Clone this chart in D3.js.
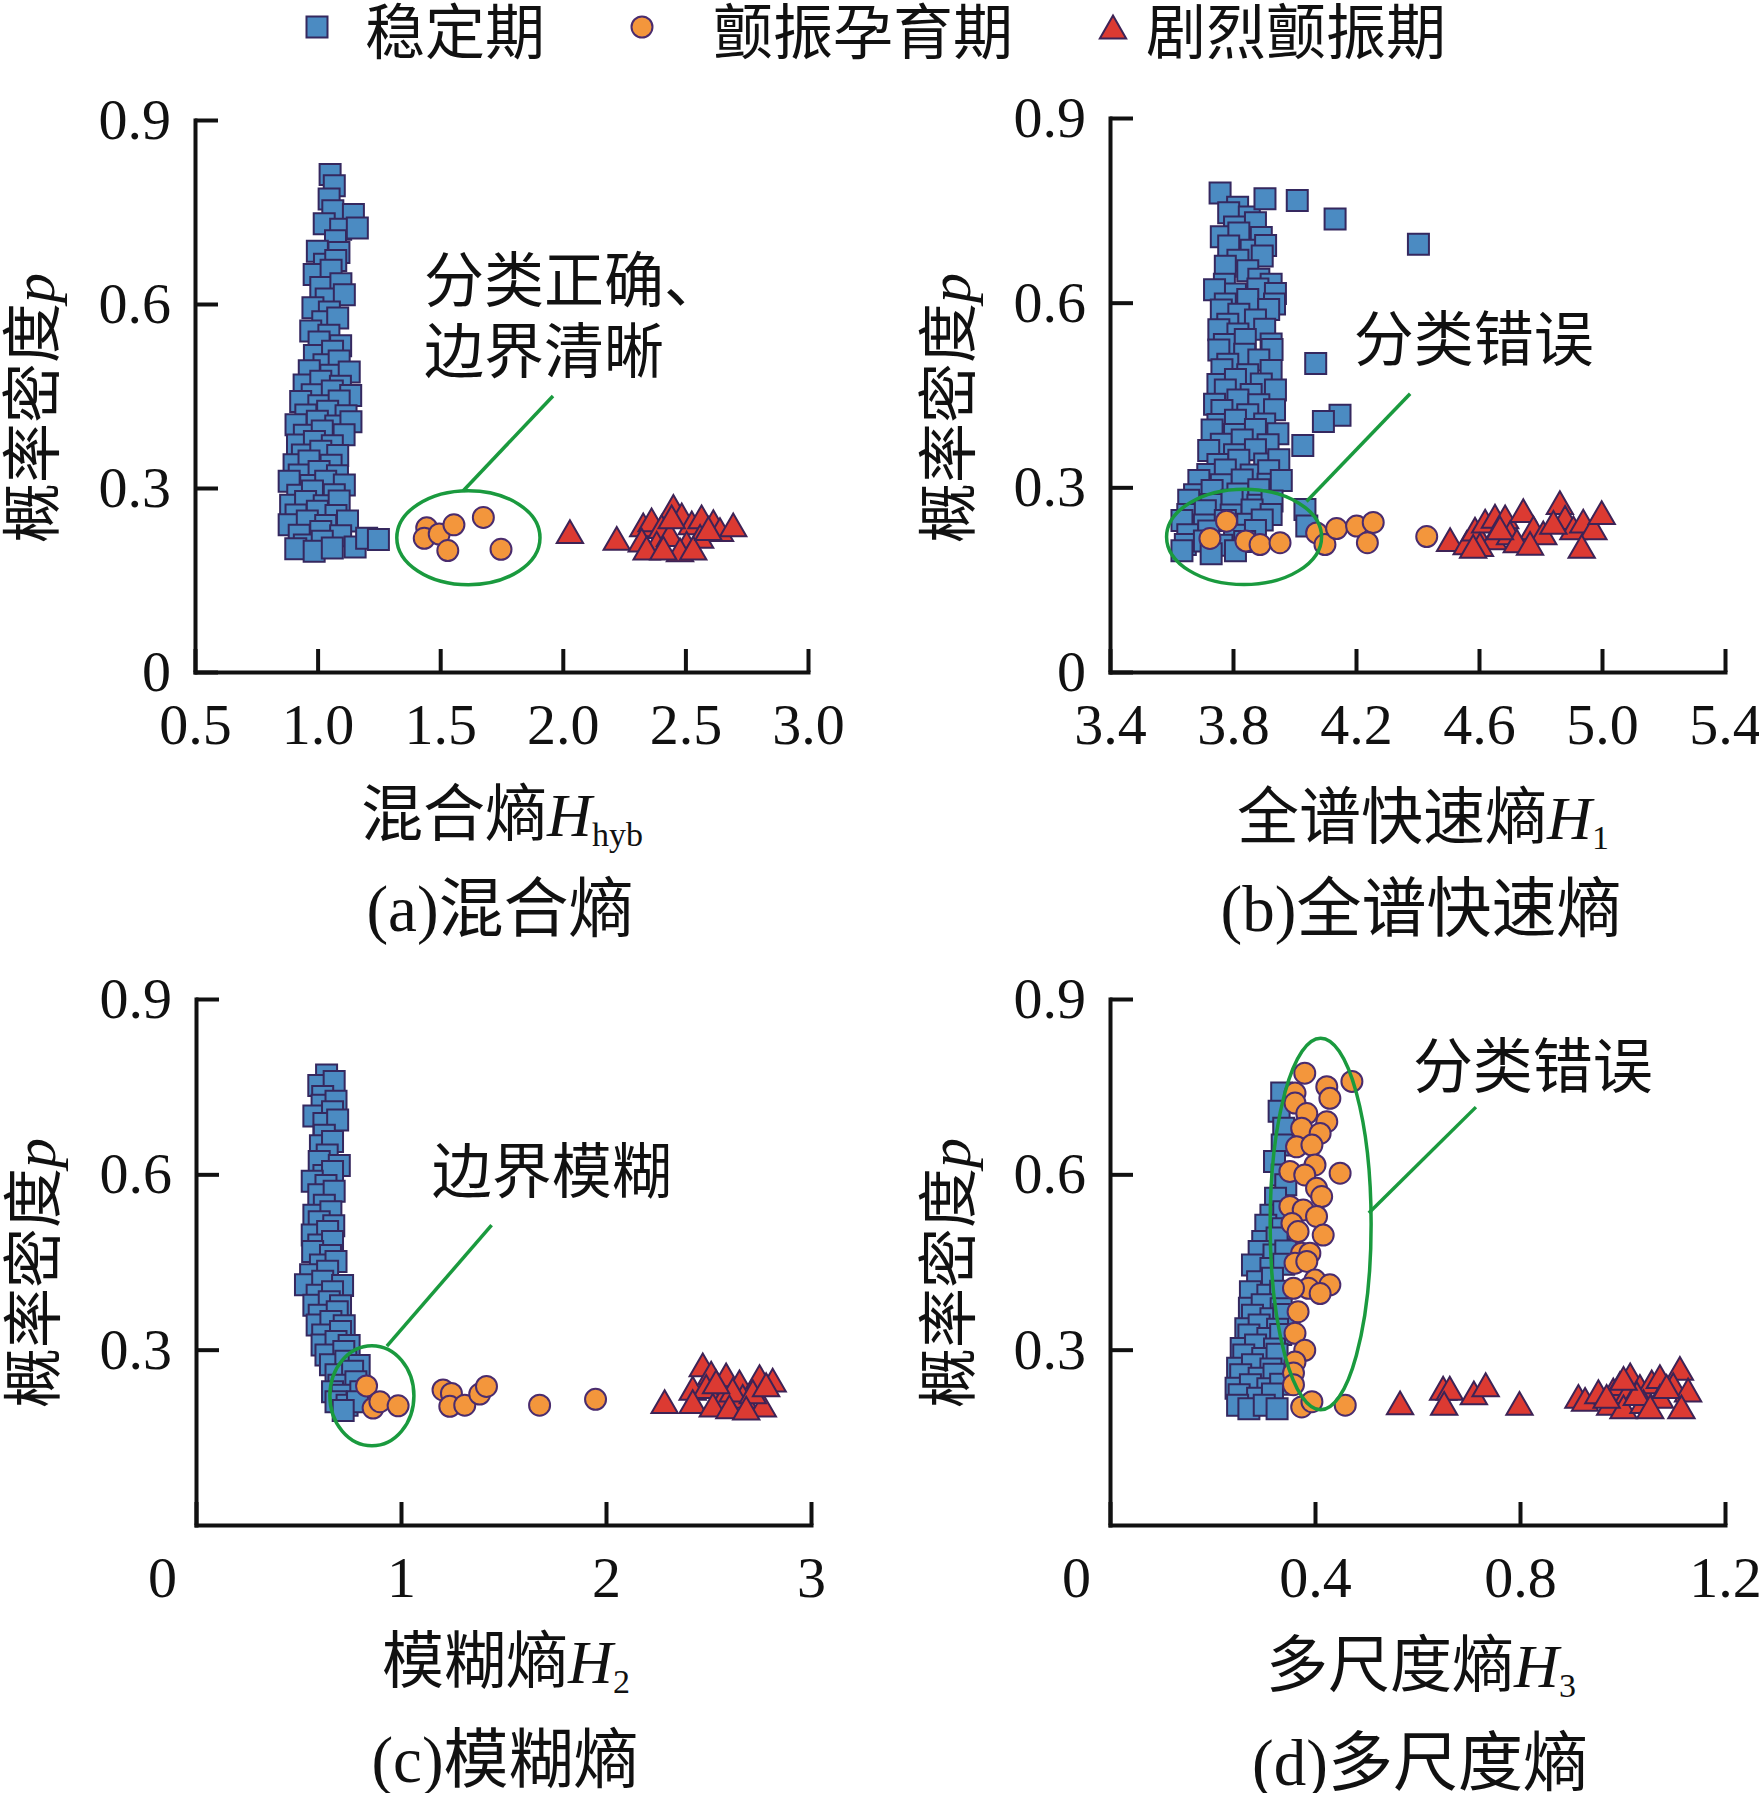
<!DOCTYPE html>
<html>
<head>
<meta charset="utf-8">
<script src="https://cdn.jsdelivr.net/npm/d3@7"></script>
<style>
  body { margin: 0; background: #fff; }
</style>
</head>
<body>
<div id="chart"></div>
<script>
// ---- data ----
const CATEGORIES = ['稳定期', '颤振孕育期', '剧烈颤振期'];

const A_XTICKS = [0.5, 1.0, 1.5, 2.0, 2.5, 3.0];
const B_XTICKS = [3.4, 3.8, 4.2, 4.6, 5.0, 5.4];
const C_XTICKS = [0, 1, 2, 3];
const D_XTICKS = [0, 0.4, 0.8, 1.2];
const AB_YTICKS = [0, 0.3, 0.6, 0.9];
const CD_YTICKS = [0.3, 0.6, 0.9];

// (a) hybrid entropy
const aStable = [
  [1.051,0.811],[1.068,0.793],[1.047,0.771],[1.062,0.752],[1.146,0.746],
  [1.027,0.731],[1.094,0.722],[1.162,0.724],[1.073,0.703],[0.999,0.686],[1.087,0.684],
  [1.028,0.665],[1.074,0.671],[0.986,0.648],[1.055,0.655],[1.013,0.627],[1.095,0.633],
  [1.035,0.608],[1.109,0.615],[0.981,0.594],[1.048,0.587],[1.021,0.571],[1.082,0.577],
  [0.972,0.556],[1.046,0.549],[1.006,0.538],[1.094,0.532],[0.987,0.516],[1.061,0.523],
  [1.026,0.501],[1.088,0.507],[0.966,0.491],[1.054,0.484],[1.129,0.489],
  [0.945,0.468],[1.013,0.474],[1.093,0.466],[0.978,0.452],[1.060,0.458],[1.135,0.451],
  [0.931,0.441],[1.005,0.434],[1.088,0.442],[0.952,0.419],[1.041,0.425],[1.116,0.418],
  [0.912,0.403],[0.999,0.409],[1.074,0.401],[1.136,0.408],[0.946,0.386],[1.019,0.393],[1.108,0.387],
  [0.918,0.370],[0.987,0.376],[1.060,0.369],[0.938,0.354],[1.013,0.360],[1.082,0.353],
  [0.904,0.338],[0.965,0.344],[1.055,0.337],[0.925,0.321],[1.006,0.327],[1.081,0.320],
  [0.884,0.311],[0.972,0.304],[1.033,0.311],[1.109,0.305],[0.919,0.288],[0.979,0.295],[1.068,0.289],
  [0.890,0.272],[0.951,0.278],[1.027,0.271],[1.088,0.279],[0.912,0.256],[0.999,0.262],[1.075,0.255],
  [0.884,0.240],[0.958,0.246],[1.033,0.239],[1.122,0.246],[0.925,0.223],[1.013,0.229],[1.094,0.222],
  [0.946,0.207],[1.019,0.213],[1.153,0.204],[0.911,0.201],[0.986,0.197],[1.060,0.202],
  [1.200,0.218],[1.248,0.216]
];
const aPre = [
  [1.445,0.235],[1.435,0.218],[1.496,0.225],[1.556,0.240],[1.531,0.198],[1.676,0.252],[1.748,0.200]
];
const aViolent = [
  [2.029,0.229],[2.220,0.218],[2.328,0.240],[2.362,0.248],[2.451,0.270],[2.403,0.237],
  [2.485,0.256],[2.526,0.243],[2.566,0.253],[2.614,0.245],[2.641,0.232],[2.695,0.240],
  [2.322,0.215],[2.383,0.210],[2.505,0.210],[2.560,0.221],[2.437,0.224],[2.342,0.202],
  [2.478,0.199],[2.532,0.202],[2.410,0.202],[2.444,0.253],[2.594,0.234]
];

// (b) full-spectrum fast entropy
const bStable = [
  [3.758,0.778],[3.815,0.755],[3.786,0.746],[3.853,0.739],[3.805,0.723],[3.873,0.730],
  [3.762,0.707],[3.819,0.713],[3.892,0.706],[3.786,0.692],[3.859,0.685],[3.906,0.693],
  [3.816,0.669],[3.895,0.676],[3.775,0.659],[3.848,0.652],[3.772,0.630],[3.884,0.638],[3.924,0.630],
  [3.740,0.621],[3.808,0.614],[3.881,0.622],[3.938,0.615],[3.775,0.598],[3.848,0.605],[3.935,0.598],
  [3.762,0.588],[3.819,0.581],[3.916,0.589],[3.783,0.565],[3.873,0.572],
  [3.754,0.556],[3.816,0.549],[3.903,0.557],[3.772,0.532],[3.840,0.540],[3.924,0.533],
  [3.754,0.523],[3.838,0.516],[3.927,0.524],[3.783,0.500],[3.884,0.507],
  [3.764,0.491],[3.848,0.483],[3.924,0.490],[3.751,0.467],[3.808,0.475],[3.892,0.468],
  [3.775,0.458],[3.859,0.451],[3.938,0.458],[3.740,0.435],[3.816,0.442],[3.884,0.434],
  [3.764,0.425],[3.848,0.418],[3.935,0.426],[3.751,0.402],[3.808,0.409],[3.903,0.403],
  [3.732,0.393],[3.805,0.386],[3.873,0.394],[3.946,0.387],[3.762,0.370],[3.830,0.377],[3.914,0.369],
  [3.721,0.360],[3.805,0.353],[3.873,0.361],[3.751,0.337],[3.819,0.344],[3.903,0.338],[3.949,0.345],
  [3.718,0.321],[3.775,0.328],[3.859,0.320],[3.916,0.327],
  [3.689,0.311],[3.762,0.304],[3.830,0.312],[3.914,0.305],[3.957,0.311],
  [3.675,0.288],[3.732,0.295],[3.816,0.289],[3.884,0.296],
  [3.656,0.279],[3.729,0.272],[3.797,0.279],[3.881,0.271],[3.927,0.278],
  [3.653,0.256],[3.710,0.262],[3.794,0.255],[3.862,0.263],[3.924,0.256],
  [3.634,0.246],[3.707,0.239],[3.775,0.246],[3.848,0.240],[3.895,0.247],
  [3.653,0.223],[3.721,0.229],[3.805,0.222],[3.873,0.230],
  [3.645,0.207],[3.707,0.213],[3.764,0.206],[3.838,0.212],[3.634,0.197],[3.729,0.192],[3.808,0.197],
  [3.904,0.769],[4.009,0.766],[4.132,0.736],[4.403,0.695],[4.069,0.501],[4.148,0.417],
  [4.094,0.407],[4.027,0.368],[4.034,0.264],[4.040,0.237]
];
const bPre = [
  [3.725,0.217],[3.779,0.245],[3.842,0.213],[3.888,0.207],[3.953,0.210],[4.072,0.226],
  [4.099,0.207],[4.137,0.233],[4.202,0.237],[4.256,0.243],[4.237,0.210],[4.430,0.220]
];
const bViolent = [
  [4.506,0.215],[4.560,0.210],[4.587,0.232],[4.620,0.245],[4.652,0.253],[4.685,0.252],
  [4.647,0.218],[4.701,0.226],[4.744,0.262],[4.777,0.234],[4.723,0.213],[4.809,0.226],
  [4.863,0.275],[4.880,0.251],[4.907,0.234],[4.939,0.245],[4.972,0.234],[4.999,0.259],
  [4.934,0.204],[4.603,0.207],[4.766,0.209],[4.842,0.243],[4.668,0.234],[4.581,0.204]
];

// (c) fuzzy entropy
const cStable = [
  [0.637,0.770],[0.599,0.752],[0.674,0.759],[0.618,0.733],[0.615,0.718],[0.683,0.725],
  [0.575,0.700],[0.666,0.707],[0.624,0.687],[0.691,0.693],[0.626,0.667],[0.607,0.649],[0.666,0.656],
  [0.640,0.633],[0.601,0.622],[0.699,0.615],[0.624,0.598],[0.666,0.605],[0.567,0.588],[0.634,0.581],
  [0.599,0.565],[0.674,0.571],[0.626,0.547],[0.575,0.530],[0.658,0.536],[0.601,0.519],[0.672,0.512],
  [0.567,0.496],[0.642,0.502],[0.599,0.479],[0.666,0.485],[0.569,0.468],[0.656,0.461],
  [0.607,0.445],[0.683,0.451],[0.559,0.428],[0.642,0.434],[0.534,0.411],[0.618,0.417],[0.715,0.410],
  [0.591,0.393],[0.666,0.399],[0.575,0.376],[0.650,0.382],[0.705,0.375],[0.601,0.359],[0.689,0.365],
  [0.591,0.342],[0.658,0.348],[0.723,0.341],[0.618,0.325],[0.705,0.331],
  [0.615,0.308],[0.683,0.314],[0.747,0.307],[0.634,0.291],[0.721,0.297],
  [0.656,0.274],[0.731,0.280],[0.796,0.273],[0.683,0.257],[0.764,0.263],
  [0.697,0.239],[0.780,0.245],[0.666,0.228],[0.713,0.222],[0.804,0.228],
  [0.683,0.211],[0.737,0.205],[0.788,0.211],[0.718,0.196]
];
const cPre = [
  [0.832,0.238],[0.864,0.200],[0.897,0.211],[0.986,0.204],[1.205,0.231],[1.246,0.225],
  [1.238,0.203],[1.311,0.205],[1.384,0.224],[1.417,0.237],[1.676,0.205],[1.949,0.215]
];
const cViolent = [
  [2.286,0.211],[2.423,0.234],[2.472,0.274],[2.513,0.260],[2.586,0.257],[2.651,0.245],
  [2.749,0.254],[2.813,0.248],[2.489,0.237],[2.570,0.217],[2.667,0.220],[2.765,0.205],
  [2.423,0.211],[2.521,0.205],[2.618,0.231],[2.716,0.228],[2.537,0.245],[2.781,0.240],
  [2.602,0.202],[2.684,0.200]
];

// (d) multiscale entropy
const dStable = [
  [0.335,0.739],[0.330,0.708],[0.339,0.679],[0.336,0.650],[0.321,0.622],[0.336,0.599],[0.343,0.582],
  [0.323,0.559],[0.314,0.530],[0.339,0.536],[0.304,0.513],[0.337,0.507],[0.298,0.485],[0.326,0.491],
  [0.291,0.468],[0.320,0.462],[0.343,0.469],[0.278,0.445],[0.314,0.439],[0.339,0.446],
  [0.288,0.416],[0.317,0.422],[0.274,0.399],[0.308,0.393],[0.333,0.400],
  [0.272,0.371],[0.297,0.377],[0.334,0.370],[0.278,0.359],[0.314,0.353],[0.339,0.360],
  [0.265,0.336],[0.291,0.342],[0.327,0.335],[0.271,0.325],[0.308,0.319],[0.333,0.326],
  [0.256,0.302],[0.284,0.308],[0.321,0.301],[0.261,0.291],[0.298,0.285],[0.326,0.292],
  [0.249,0.268],[0.278,0.274],[0.314,0.267],[0.255,0.257],[0.291,0.251],[0.320,0.258],
  [0.246,0.234],[0.274,0.240],[0.308,0.233],[0.333,0.241],[0.252,0.223],[0.288,0.217],[0.317,0.224],
  [0.249,0.205],[0.271,0.199],[0.301,0.205],[0.326,0.199]
];
const dPre = [
  [0.380,0.773],[0.361,0.739],[0.423,0.750],[0.429,0.730],[0.472,0.759],[0.361,0.722],
  [0.384,0.704],[0.423,0.690],[0.374,0.679],[0.410,0.670],[0.364,0.647],[0.394,0.650],
  [0.400,0.616],[0.351,0.605],[0.380,0.599],[0.449,0.602],[0.403,0.576],[0.413,0.562],
  [0.351,0.545],[0.377,0.539],[0.403,0.528],[0.355,0.516],[0.367,0.502],[0.416,0.496],
  [0.374,0.465],[0.390,0.465],[0.361,0.448],[0.384,0.451],[0.400,0.419],[0.429,0.411],
  [0.387,0.405],[0.410,0.396],[0.358,0.405],[0.367,0.365],[0.361,0.328],[0.380,0.299],
  [0.361,0.279],[0.358,0.260],[0.358,0.240],[0.374,0.202],[0.394,0.211],[0.459,0.205]
];
const dViolent = [
  [0.566,0.209],[0.650,0.234],[0.663,0.234],[0.652,0.208],[0.710,0.226],[0.733,0.240],
  [0.799,0.208],[0.914,0.220],[0.927,0.215],[0.953,0.228],[0.982,0.231],[0.995,0.242],
  [1.015,0.257],[1.011,0.228],[1.034,0.237],[1.057,0.245],[1.073,0.254],[1.112,0.268],
  [1.099,0.240],[1.128,0.231],[1.073,0.220],[1.115,0.202],[0.976,0.208],[1.002,0.202],
  [1.041,0.211],[1.028,0.225],[0.969,0.220],[1.086,0.237],[1.002,0.251],[1.054,0.202]
];

// ---- layout ----
const W = 1759, H = 1793;
const SERIF = '"Liberation Serif","Times New Roman",serif';
const CJK = '"Noto Sans CJK SC","Noto Sans CJK JP",sans-serif';
const GREEN = '#1a9a3e';
const fmt1 = d => d === 0 ? '0' : d.toFixed(1);

const TRI = 300, TRI_DY = Math.sqrt(TRI / (Math.sqrt(3) * 3)) / 2;
const STYLES = [
  { path: d3.symbol().type(d3.symbolSquare).size(441)(),   fill: '#4b8bc2', stroke: '#35285f', dy: 0 },
  { path: d3.symbol().type(d3.symbolCircle).size(346)(),   fill: '#f3963c', stroke: '#4a2c6e', dy: 0 },
  { path: d3.symbol().type(d3.symbolTriangle).size(TRI)(), fill: '#dc3a32', stroke: '#3d2356', dy: TRI_DY }
];

const PANELS = [
  { box: { x0: 195, x1: 808, y0: 672, y1: 120 }, xDomain: [0.5, 3.0], xTicks: A_XTICKS, xFmt: fmt1,
    yTicks: AB_YTICKS, series: [aStable, aPre, aViolent],
    xName: '混合熵', sub: 'hyb', tag: '(a)', title: '混合熵',
    yLab: [54, 408], xLab: [502, 836], tLab: [500, 931],
    note: { lines: ['分类正确、', '边界清晰'], at: [1.434, 0.641], lead: [[1.960, 0.450], [1.593, 0.295]],
            ell: [1.615, 0.219, 0.292, 0.0767] } },
  { box: { x0: 1110, x1: 1725, y0: 672, y1: 118 }, xDomain: [3.4, 5.4], xTicks: B_XTICKS, xFmt: fmt1,
    yTicks: AB_YTICKS, series: [bStable, bPre, bViolent],
    xName: '全谱快速熵', sub: '1', tag: '(b)', title: '全谱快速熵',
    yLab: [970, 408], xLab: [1423, 839], tLab: [1421, 931],
    note: { lines: ['分类错误'], at: [4.193, 0.542], lead: [[4.376, 0.452], [4.039, 0.277]],
            ell: [3.836, 0.2195, 0.252, 0.0775] } },
  { box: { x0: 196, x1: 811, y0: 1525, y1: 999 }, xDomain: [0, 3], xTicks: C_XTICKS, xFmt: d => String(d),
    yTicks: CD_YTICKS, series: [cStable, cPre, cViolent],
    xName: '模糊熵', sub: '2', tag: '(c)', title: '模糊熵',
    yLab: [55, 1273], xLab: [506, 1683], tLab: [505, 1782],
    note: { lines: ['边界模糊'], at: [1.150, 0.607], lead: [[1.442, 0.513], [0.931, 0.306]],
            ell: [0.858, 0.221, 0.205, 0.0856] } },
  { box: { x0: 1110, x1: 1725, y0: 1525, y1: 999 }, xDomain: [0, 1.2], xTicks: D_XTICKS, xFmt: fmt1,
    yTicks: CD_YTICKS, series: [dStable, dPre, dViolent],
    xName: '多尺度熵', sub: '3', tag: '(d)', title: '多尺度熵',
    yLab: [970, 1273], xLab: [1421, 1687], tLab: [1420, 1785],
    note: { lines: ['分类错误'], at: [0.591, 0.787], lead: [[0.714, 0.715], [0.505, 0.534]],
            ell: [0.411, 0.515, 0.0985, 0.318] } }
];

const svg = d3.select('#chart').append('svg')
  .attr('width', W).attr('height', H).attr('viewBox', `0 0 ${W} ${H}`)
  .style('background', '#fff');

// legend
const LEGEND = [{ mx: 317, tx: 365 }, { mx: 642, tx: 713 }, { mx: 1113, tx: 1146 }];
const legend = svg.append('g');
CATEGORIES.forEach((name, i) => {
  const s = STYLES[i];
  legend.append('path').attr('d', s.path)
    .attr('transform', `translate(${LEGEND[i].mx},${27 + s.dy})`)
    .attr('fill', s.fill).attr('stroke', s.stroke).attr('stroke-width', 2);
  legend.append('text').attr('x', LEGEND[i].tx).attr('y', 54)
    .attr('font-family', CJK).attr('font-size', 60).attr('fill', '#111')
    .text(name);
});

PANELS.forEach(p => {
  const g = svg.append('g');
  const x = d3.scaleLinear().domain(p.xDomain).range([p.box.x0, p.box.x1]);
  const y = d3.scaleLinear().domain([0, 0.9]).range([p.box.y0, p.box.y1]);

  // axes
  const gx = g.append('g').attr('transform', `translate(0,${p.box.y0})`)
    .call(d3.axisBottom(x).tickValues(p.xTicks).tickFormat(p.xFmt).tickSizeInner(-23).tickSizeOuter(0));
  gx.selectAll('text').attr('y', 72).attr('dy', 0)
    .attr('dx', d => (d === 0 ? -34 : 0));
  const gy = g.append('g').attr('transform', `translate(${p.box.x0},0)`)
    .call(d3.axisLeft(y).tickValues(p.yTicks).tickFormat(fmt1).tickSizeInner(-23).tickSizeOuter(0).tickPadding(24));
  [gx, gy].forEach(a => {
    a.attr('font-family', SERIF).attr('font-size', 58);
    a.select('.domain').attr('stroke', '#111').attr('stroke-width', 4).attr('stroke-linecap', 'square');
    a.selectAll('.tick line').attr('stroke', '#111').attr('stroke-width', 4);
    a.selectAll('.tick text').attr('fill', '#111');
  });

  // points
  p.series.forEach((pts, i) => {
    const s = STYLES[i];
    g.append('g').selectAll('path').data(pts).join('path')
      .attr('d', s.path)
      .attr('transform', d => `translate(${x(d[0])},${y(d[1]) + s.dy})`)
      .attr('fill', s.fill).attr('stroke', s.stroke).attr('stroke-width', 2)
      .attr('stroke-linejoin', 'miter');
  });

  // annotation
  const n = p.note;
  const [ecx, ecy, erx, ery] = n.ell;
  g.append('ellipse')
    .attr('cx', x(ecx)).attr('cy', y(ecy))
    .attr('rx', x(ecx + erx) - x(ecx)).attr('ry', y(ecy) - y(ecy + ery))
    .attr('fill', 'none').attr('stroke', GREEN).attr('stroke-width', 3.5);
  g.append('line')
    .attr('x1', x(n.lead[0][0])).attr('y1', y(n.lead[0][1]))
    .attr('x2', x(n.lead[1][0])).attr('y2', y(n.lead[1][1]))
    .attr('stroke', GREEN).attr('stroke-width', 3.5);
  n.lines.forEach((line, i) => {
    g.append('text')
      .attr('x', x(n.at[0])).attr('y', y(n.at[1]) + 23 + i * 71)
      .attr('font-family', CJK).attr('font-size', 60).attr('fill', '#111')
      .text(line);
  });

  // y label
  const yl = g.append('text')
    .attr('transform', `translate(${p.yLab[0]},${p.yLab[1]}) rotate(-90)`)
    .attr('text-anchor', 'middle').attr('font-size', 60).attr('fill', '#111');
  yl.append('tspan').attr('font-family', CJK).text('概率密度');
  yl.append('tspan').attr('font-family', SERIF).attr('font-style', 'italic').text('p');

  // x label
  const xl = g.append('text')
    .attr('x', p.xLab[0]).attr('y', p.xLab[1])
    .attr('text-anchor', 'middle').attr('font-size', 62).attr('fill', '#111');
  xl.append('tspan').attr('font-family', CJK).text(p.xName);
  xl.append('tspan').attr('font-family', SERIF).attr('font-style', 'italic').text('H');
  xl.append('tspan').attr('font-family', SERIF).attr('font-size', 34).attr('dy', 10).text(p.sub);

  // panel title
  const tl = g.append('text')
    .attr('x', p.tLab[0]).attr('y', p.tLab[1])
    .attr('text-anchor', 'middle').attr('font-size', 65).attr('fill', '#111');
  tl.append('tspan').attr('font-family', SERIF).text(p.tag);
  tl.append('tspan').attr('font-family', CJK).text(p.title);
});
</script>
</body>
</html>
